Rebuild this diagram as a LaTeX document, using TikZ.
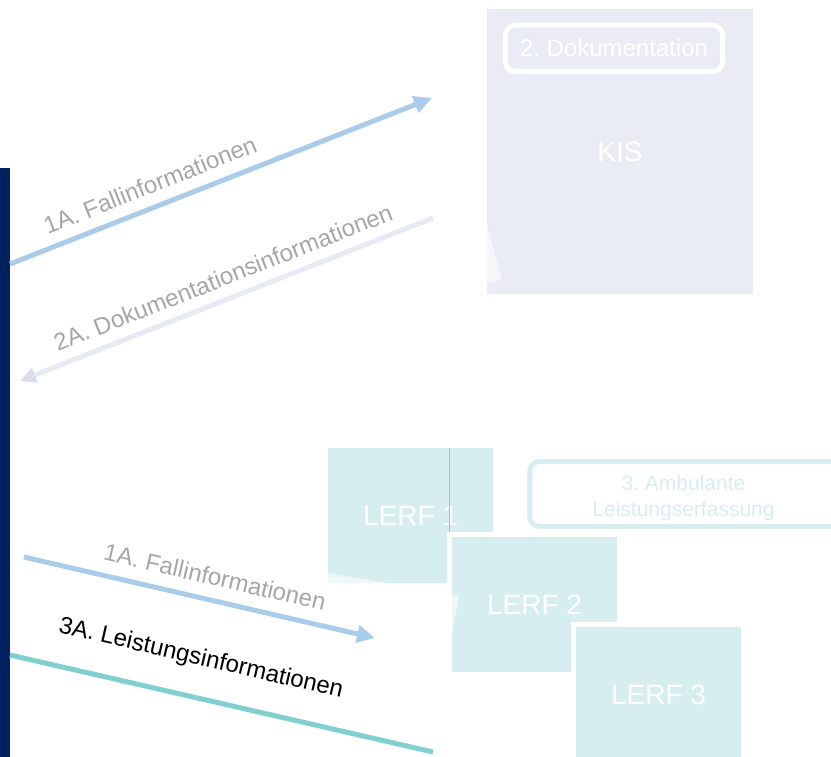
\documentclass[tikz,border=0pt]{standalone}
\usepackage{fontspec}
\setmainfont{Liberation Sans}
\usetikzlibrary{arrows.meta}
\definecolor{navy}{HTML}{002060}
\definecolor{arrowblue}{HTML}{A9CCEA}
\definecolor{kisfill}{HTML}{E9ECF4}
\definecolor{kiswedge}{HTML}{F6F7FA}
\definecolor{lerffill}{HTML}{D6EEF0}
\definecolor{lerfwedge}{HTML}{EEF8F9}
\definecolor{labelgray}{HTML}{A6A6A6}
\definecolor{tealline}{HTML}{80CFD1}
\definecolor{docline}{HTML}{E7EAF3}
\definecolor{dochead}{HTML}{DADDEE}
\frenchspacing
\begin{document}
\begin{tikzpicture}[x=1pt,y=-1pt,
  lerf/.style={fill=lerffill, preaction={draw=white, line width=10pt},
    minimum width=165pt, minimum height=135pt, inner sep=0pt,
    text=white, font=\fontsize{28}{34}\selectfont},
  flowlabel/.style={text=labelgray, font=\fontsize{24}{29}\selectfont, inner sep=0pt},
  flow/.style={line width=5pt},
  titlebox/.style={line width=5pt, rounded corners=10pt, inner sep=0pt},
]
\path[use as bounding box, clip] (0,0) rectangle (831,757);

% KIS block
\node[fill=kisfill, minimum width=266pt, minimum height=285pt, inner sep=0pt,
      text=white, font=\fontsize{28}{34}\selectfont] (kis) at (620,151.5) {KIS};
\fill[kiswedge] (487,225) -- (502,280) -- (487,283) -- cycle;
\node[titlebox, draw=white, minimum width=217pt, minimum height=46.5pt,
      text=white, font=\fontsize{24}{29}\selectfont] (doku) at (614,48.3) {2. Dokumentation};

% navy bar
\fill[navy] (0,168) rectangle (10,757);

% LERF blocks
\node[lerf] (lerf1) at (410.5,515.5) {LERF 1};
\draw[tealline, line width=1pt] (449,448) -- (449,532);
\fill[lerfwedge] (328,573) -- (387,583) -- (328,583) -- cycle;
\node[lerf] (lerf2) at (534.5,604.5) {LERF 2};
\fill[lerfwedge] (452,595) -- (459,596) -- (452,634) -- cycle;
\node[lerf] (lerf3) at (658.5,694.5) {LERF 3};

% Ambulante Leistungserfassung
\node[titlebox, draw=lerffill, minimum width=315pt, minimum height=65pt] (amb) at (687.25,494) {};
\node[anchor=base, inner sep=0pt, text=lerffill, font=\fontsize{21}{26}\selectfont] (amb1) at (683.5,490) {3. Ambulante};
\node[anchor=base, inner sep=0pt, text=lerffill, font=\fontsize{21}{26}\selectfont] (amb2) at (683.5,516) {Leistungserfassung};

% connectors
\coordinate (a1s) at (10,264);  \coordinate (a1e) at (432,98);
\coordinate (a2s) at (433,218); \coordinate (a2e) at (20,381);
\coordinate (a3s) at (24,557);  \coordinate (a3e) at (375,638);
\coordinate (a4s) at (10,655);  \coordinate (a4e) at (433,752);
\draw[flow, arrowblue, -{Triangle[length=18pt,width=17pt]}] (a1s) -- (a1e);
\draw[flow, docline, -{Triangle[length=16pt,width=15pt,fill=dochead,color=dochead]}] (a2s) -- (a2e);
\draw[flow, arrowblue, -{Triangle[length=18pt,width=17pt]}] (a3s) -- (a3e);
\draw[flow, tealline] (a4s) -- (a4e);

% labels
\node[flowlabel, rotate=21.7] (l1) at (150,185) {1A. Fallinformationen};
\node[flowlabel, rotate=21.5] (l2) at (223,277.5) {2A. Dokumentationsinformationen};
\node[flowlabel, rotate=-13] (l3) at (215,577) {1A. Fallinformationen};
\node[flowlabel, text=black, rotate=-13] (l4) at (201,659) {3A. Leistungsinformationen};
\end{tikzpicture}
\end{document}
